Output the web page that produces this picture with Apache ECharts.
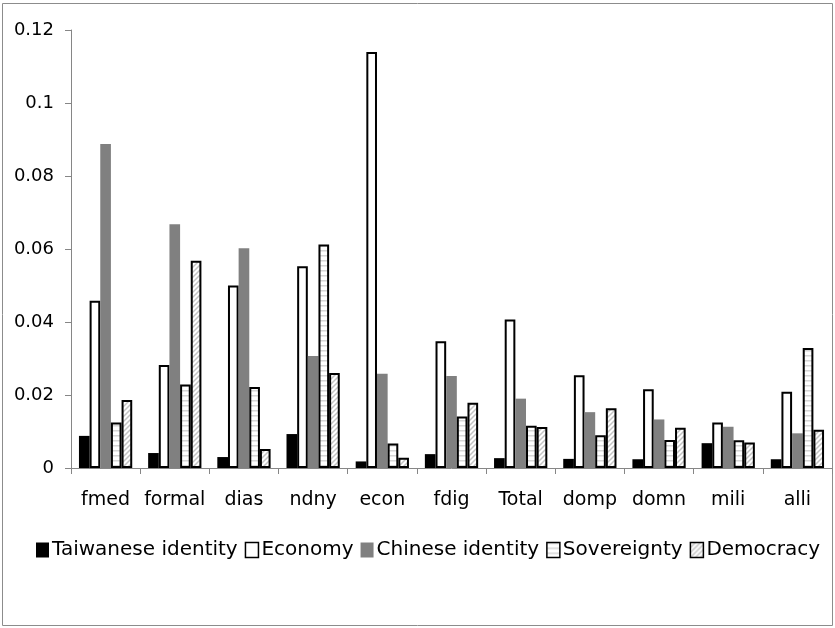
<!DOCTYPE html>
<html>
<head>
<meta charset="utf-8">
<script src="https://cdn.jsdelivr.net/npm/echarts@6/dist/echarts.min.js"></script>
<style>
  html, body { margin: 0; padding: 0; background: #fff; }
  #chart { width: 835px; height: 628px; }
</style>
</head>
<body>
<div id="chart"></div>
<script>
// Categories and series values
var categories = ['fmed', 'formal', 'dias', 'ndny', 'econ', 'fdig', 'Total', 'domp', 'domn', 'mili', 'alli'];
var taiwaneseIdentity = [0.0088, 0.0041, 0.0030, 0.0093, 0.0018, 0.0038, 0.0027, 0.0025, 0.0024, 0.0068, 0.0024];
var economy = [0.0458, 0.0282, 0.0500, 0.0553, 0.1140, 0.0347, 0.0407, 0.0254, 0.0216, 0.0125, 0.0209];
var chineseIdentity = [0.0888, 0.0668, 0.0602, 0.0307, 0.0258, 0.0252, 0.0190, 0.0153, 0.0133, 0.0113, 0.0095];
var sovereignty = [0.0125, 0.0229, 0.0222, 0.0612, 0.0067, 0.0141, 0.0116, 0.0090, 0.0077, 0.0076, 0.0329];
var democracy = [0.0186, 0.0568, 0.0052, 0.0260, 0.0028, 0.0179, 0.0112, 0.0164, 0.0110, 0.0070, 0.0105];
var seriesNames = ['Taiwanese identity', 'Economy', 'Chinese identity', 'Sovereignty', 'Democracy'];
var yTicks = { min: 0, max: 0.12, interval: 0.02 };

// Fill patterns
function hStripes() {
  var c = document.createElement('canvas');
  c.width = 4; c.height = 5;
  var g = c.getContext('2d');
  g.fillStyle = '#ffffff'; g.fillRect(0, 0, 4, 5);
  g.fillStyle = '#d6d6d6'; g.fillRect(0, 0, 4, 1.5);
  return c;
}
function diagStripes() {
  var s = 5;
  var c = document.createElement('canvas');
  c.width = s; c.height = s;
  var g = c.getContext('2d');
  g.fillStyle = '#ffffff'; g.fillRect(0, 0, s, s);
  g.strokeStyle = '#c4c4c4'; g.lineWidth = 1.5;
  g.beginPath();
  g.moveTo(-1, s + 1); g.lineTo(s + 1, -1);
  g.moveTo(-1, 1); g.lineTo(1, -1);
  g.moveTo(s - 1, s + 1); g.lineTo(s + 1, s - 1);
  g.stroke();
  return c;
}

var FONT = "'DejaVu Sans', sans-serif";
var AXIS_GRAY = '#868686';

var styles = [
  { color: '#000000' },
  { color: '#ffffff', borderColor: '#000000', borderWidth: 2 },
  { color: '#808080' },
  { color: { image: hStripes(), repeat: 'repeat' }, borderColor: '#000000', borderWidth: 2 },
  { color: { image: diagStripes(), repeat: 'repeat' }, borderColor: '#000000', borderWidth: 2 }
];
var values = [taiwaneseIdentity, economy, chineseIdentity, sovereignty, democracy];

var series = seriesNames.map(function (name, i) {
  return {
    name: name,
    type: 'bar',
    data: values[i],
    barGap: '0%',
    barCategoryGap: '23%',
    itemStyle: styles[i],
    emphasis: { disabled: true },
    animation: false
  };
});

var chart = echarts.init(document.getElementById('chart'), null, { renderer: 'canvas' });
chart.setOption({
  animation: false,
  backgroundColor: '#ffffff',
  grid: { left: 71, right: 3, top: 30, bottom: 160, containLabel: false },
  graphic: [{
    type: 'rect',
    shape: { x: 2.5, y: 3.5, width: 830, height: 622 },
    style: { fill: 'none', stroke: '#8c8c8c', lineWidth: 1 },
    silent: true, z: -1
  }],
  legend: {
    data: seriesNames.map(function (n) { return { name: n, icon: 'rect' }; }),
    left: 31,
    top: 535,
    itemWidth: 13,
    itemHeight: 15,
    itemGap: 7,
    itemStyle: { borderWidth: 1.5 },
    textStyle: { fontFamily: FONT, fontSize: 20, color: '#000', padding: [0, 0, 0, -2] },
    selectedMode: false
  },
  xAxis: {
    type: 'category',
    data: categories,
    axisLine: { lineStyle: { color: AXIS_GRAY, width: 1 } },
    axisTick: { show: true, length: 6, lineStyle: { color: AXIS_GRAY } },
    axisLabel: { fontFamily: FONT, fontSize: 19, color: '#000', margin: 23, interval: 0 },
    splitLine: { show: false }
  },
  yAxis: {
    type: 'value',
    min: yTicks.min,
    max: yTicks.max,
    interval: yTicks.interval,
    axisLine: { show: true, lineStyle: { color: AXIS_GRAY, width: 1 } },
    axisTick: { show: true, length: 6, lineStyle: { color: AXIS_GRAY } },
    axisLabel: {
      fontFamily: FONT, fontSize: 18, color: '#000', margin: 17,
      formatter: function (v) { return String(+v.toFixed(2)); }
    },
    splitLine: { show: false }
  },
  series: series
});
</script>
</body>
</html>
